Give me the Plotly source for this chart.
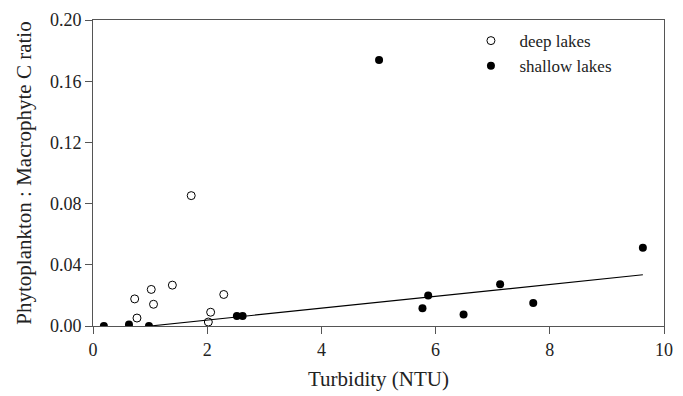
import plotly.graph_objects as go

deep_x = [0.73, 0.77, 1.02, 1.06, 1.39, 1.72, 2.02, 2.06, 2.29]
deep_y = [0.0177, 0.0052, 0.0239, 0.0142, 0.0267, 0.0852, 0.0026, 0.0090, 0.0206]

shallow_x = [0.19, 0.63, 0.98, 2.52, 2.62, 5.01, 5.77, 5.87, 6.49, 7.13, 7.71, 9.63]
shallow_y = [0.0000, 0.0010, 0.0000, 0.0065, 0.0065, 0.1738, 0.0116, 0.0200, 0.0075, 0.0273, 0.0151, 0.0512]

fit_x = [1.0, 9.63]
fit_slope = 0.00388
fit_intercept = -0.00388
fit_y = [fit_slope * v + fit_intercept for v in fit_x]

font_family = "Times New Roman"

fig = go.Figure()
fig.add_trace(go.Scatter(x=fit_x, y=fit_y, mode="lines",
                         line=dict(color="black", width=1.2), showlegend=False,
                         hoverinfo="skip"))
fig.add_trace(go.Scatter(x=deep_x, y=deep_y, mode="markers", name="deep lakes",
                         marker=dict(symbol="circle-open", size=8, color="black",
                                     line=dict(width=1, color="black"))))
fig.add_trace(go.Scatter(x=shallow_x, y=shallow_y, mode="markers", name="shallow lakes",
                         marker=dict(symbol="circle", size=8, color="black")))

axis_common = dict(showgrid=False, zeroline=False, showline=True, linecolor="#555",
                   linewidth=1, mirror=True, ticks="outside", ticklen=7,
                   tickcolor="#555", tickfont=dict(size=18, color="#222", family=font_family))

fig.update_xaxes(range=[0, 10], dtick=2, tick0=0,
                 title=dict(text="Turbidity (NTU)", font=dict(size=21, color="#222", family=font_family), standoff=12),
                 **axis_common)
fig.update_yaxes(range=[0, 0.2], dtick=0.04, tick0=0, tickformat=".2f",
                 title=dict(text="Phytoplankton : Macrophyte C ratio", font=dict(size=21, color="#222", family=font_family), standoff=12),
                 **axis_common)

fig.update_layout(
    width=683, height=396,
    margin=dict(l=93, r=10, t=17, b=69),
    plot_bgcolor="white", paper_bgcolor="white",
    font=dict(family=font_family, color="#222"),
    legend=dict(x=0.647, y=0.99, xanchor="left", yanchor="top",
                font=dict(size=17, family=font_family, color="#222"),
                bgcolor="rgba(0,0,0,0)", itemwidth=47),
)

fig.write_html("out.html")
